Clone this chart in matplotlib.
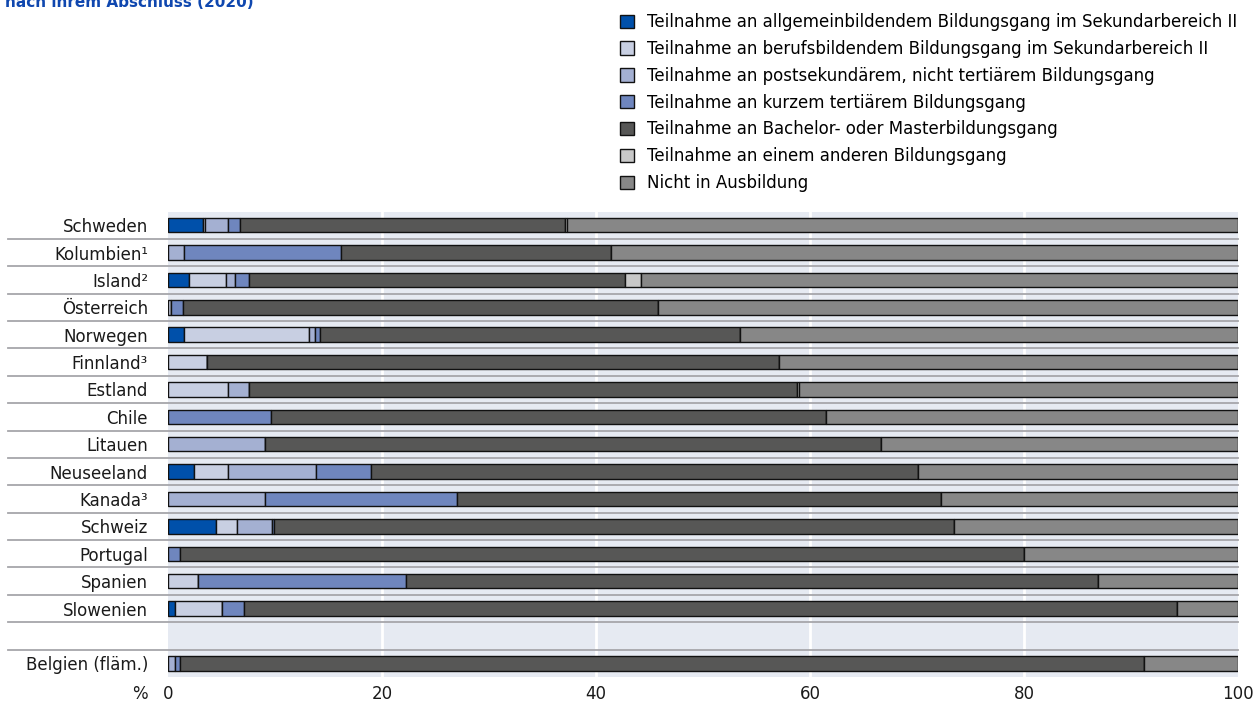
import matplotlib
matplotlib.use("Agg")
import matplotlib.pyplot as plt
import matplotlib.transforms as mtransforms
import numpy as np

# Anteil (%) je Land, Reihenfolge von oben nach unten
countries = ["Schweden", "Kolumbien¹", "Island²", "Österreich", "Norwegen",
             "Finnland³", "Estland", "Chile", "Litauen", "Neuseeland",
             "Kanada³", "Schweiz", "Portugal", "Spanien", "Slowenien",
             "Belgien (fläm.)"]

general   = [3.3, 0.0, 2.0, 0.0, 1.5, 0.0, 0.0, 0.0, 0.0, 2.4, 0.0, 4.5, 0.0, 0.0, 0.65, 0.0]
vocational = [0.2, 0.0, 3.4, 0.3, 11.65, 3.65, 5.6, 0.0, 0.0, 3.2, 0.0, 1.95, 0.0, 2.8, 4.35, 0.0]
postsec   = [2.1, 1.5, 0.9, 0.0, 0.6, 0.0, 2.0, 0.0, 9.1, 8.2, 9.1, 3.25, 0.0, 0.0, 0.0, 0.65]
short_ter = [1.1, 14.7, 1.3, 1.1, 0.5, 0.0, 0.0, 9.65, 0.0, 5.2, 17.9, 0.2, 1.1, 19.4, 2.1, 0.45]
bachelor  = [30.4, 25.2, 35.1, 44.4, 39.2, 53.45, 51.2, 51.8, 57.5, 51.1, 45.25, 63.6, 78.9, 64.75, 87.2, 90.1]
other     = [0.2, 0.0, 1.5, 0.0, 0.0, 0.0, 0.2, 0.0, 0.0, 0.0, 0.0, 0.0, 0.0, 0.0, 0.0, 0.0]
not_in_ed = [62.7, 58.6, 55.8, 54.2, 46.55, 42.9, 41.0, 38.55, 33.4, 29.9, 27.75, 26.5, 20.0, 13.05, 5.7, 8.8]

series = [
    ("Teilnahme an allgemeinbildendem Bildungsgang im Sekundarbereich II", general, "#0050AA"),
    ("Teilnahme an berufsbildendem Bildungsgang im Sekundarbereich II", vocational, "#C8CFE2"),
    ("Teilnahme an postsekundärem, nicht tertiärem Bildungsgang", postsec, "#A4B0D2"),
    ("Teilnahme an kurzem tertiärem Bildungsgang", short_ter, "#6F86BE"),
    ("Teilnahme an Bachelor- oder Masterbildungsgang", bachelor, "#575756"),
    ("Teilnahme an einem anderen Bildungsgang", other, "#C8C8C8"),
    ("Nicht in Ausbildung", not_in_ed, "#878787"),
]

x_ticks = [0, 20, 40, 60, 80, 100]

# Belgien sits one slot lower (empty row before it)
row_pos = np.array(list(range(15)) + [16])

fig = plt.figure(figsize=(12.56, 7.05), dpi=100)
ax = fig.add_axes([168 / 1256, 1 - 677 / 705, 1070 / 1256, 465 / 705])
ax.set_facecolor("#E6EAF2")

left = np.zeros(len(countries))
handles = []
for label, vals, color in series:
    vals = np.array(vals)
    h = ax.barh(row_pos, vals, left=left, height=0.53, color=color,
                edgecolor="#111111", linewidth=1.0, label=label, zorder=3)
    handles.append(h)
    left += vals

ax.set_xlim(0, 100)
ax.set_ylim(16.5, -0.48)

for x in x_ticks[1:-1]:
    ax.axvline(x, color="white", linewidth=2, zorder=1)

# row separators, running into the label area
trans = mtransforms.blended_transform_factory(ax.transAxes, ax.transData)
for b in np.arange(0.5, 16, 1.0):
    ax.plot([-0.1495, 1.0], [b, b], color="#A6A6AA", linewidth=1.3,
            transform=trans, clip_on=False, zorder=2)

ax.set_yticks(row_pos)
ax.set_yticklabels(countries, fontsize=12, color="#1A1A1A")
ax.set_xticks(x_ticks)
ax.set_xticklabels([str(t) for t in x_ticks], fontsize=12, color="#1A1A1A")
ax.tick_params(axis="y", length=0, pad=14.4)
ax.tick_params(axis="x", length=0, pad=5.5)
for s in ax.spines.values():
    s.set_visible(False)

ax.text(-0.0187, -0.0355, "%", transform=ax.transAxes, ha="right", va="center",
        fontsize=12, color="#1A1A1A")

fig.legend(handles=handles, loc="upper left", bbox_to_anchor=(620 / 1256, 1 - 13 / 705),
           frameon=False, fontsize=12, handlelength=0.85, handleheight=0.85,
           handletextpad=0.75, labelspacing=0.53, borderaxespad=0, borderpad=0)

fig.text(5 / 1256, 1 - 7 / 705, "nach ihrem Abschluss (2020)", ha="left", va="baseline",
         fontsize=11, fontweight="bold", color="#0F47AF")

fig.savefig("out.png", dpi=100)
